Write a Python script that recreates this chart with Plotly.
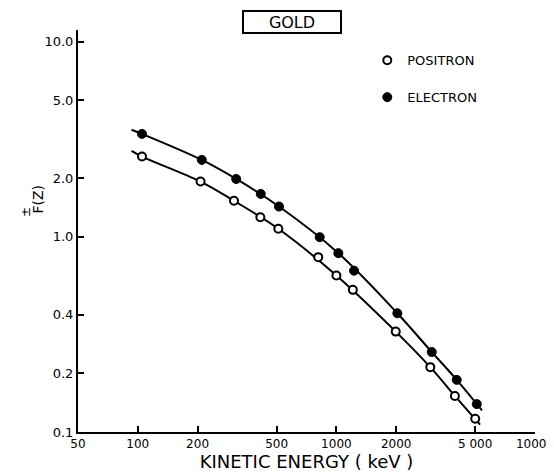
import plotly.graph_objects as go

# ---- data ----
energy_positron = [105, 207, 305, 414, 510, 810, 1000, 1210, 1990, 2970, 3950, 5000]
f_positron = [2.58, 1.92, 1.53, 1.26, 1.10, 0.787, 0.634, 0.535, 0.327, 0.215, 0.153, 0.117]

energy_electron = [105, 210, 313, 416, 514, 824, 1023, 1227, 2027, 3020, 4035, 5090]
f_electron = [3.37, 2.48, 1.98, 1.66, 1.43, 0.996, 0.825, 0.671, 0.406, 0.257, 0.185, 0.139]

# smooth fitted curves (path)
curve_positron_e = [93, 105, 207, 305, 510, 1000, 1990, 2970, 3950, 5290]
curve_positron_f = [2.76, 2.58, 1.92, 1.53, 1.10, 0.634, 0.327, 0.215, 0.153, 0.109]
curve_electron_e = [93, 105, 210, 313, 514, 1023, 2027, 3020, 4035, 5410]
curve_electron_f = [3.54, 3.37, 2.48, 1.98, 1.43, 0.825, 0.406, 0.257, 0.185, 0.129]

x_tickvals = [50, 100, 200, 500, 1000, 2000, 5000, 10000]
x_ticktext = ["50", "100", "200", "500", "1000", "2000", "5 000", "10000"]
y_tickvals = [0.1, 0.2, 0.4, 1, 2, 5, 10]
y_ticktext = ["0.1", "0.2", "0.4", "1.0", "2.0", "5.0", "10.0"]

FONT = "DejaVu Sans"

fig = go.Figure()
fig.add_trace(go.Scatter(x=curve_positron_e, y=curve_positron_f, mode="lines",
                         line=dict(color="black", width=2, shape="spline", smoothing=1.0),
                         showlegend=False, hoverinfo="skip"))
fig.add_trace(go.Scatter(x=curve_electron_e, y=curve_electron_f, mode="lines",
                         line=dict(color="black", width=2, shape="spline", smoothing=1.0),
                         showlegend=False, hoverinfo="skip"))
fig.add_trace(go.Scatter(x=energy_positron, y=f_positron, mode="markers", name="POSITRON",
                         legendgroup="p",
                         marker=dict(symbol="circle", size=8, color="white",
                                     line=dict(color="black", width=2))))
fig.add_trace(go.Scatter(x=energy_electron, y=f_electron, mode="markers", name="ELECTRON",
                         legendgroup="e",
                         marker=dict(symbol="circle", size=9, color="black",
                                     line=dict(color="black", width=1))))

axis_common = dict(type="log", showgrid=False, zeroline=False, showline=True,
                   linecolor="black", linewidth=2, ticks="inside", ticklen=6,
                   tickwidth=2, tickcolor="black", automargin=False)

fig.update_layout(
    width=546, height=464, autosize=False,
    margin=dict(l=70, r=19, t=22, b=40),
    paper_bgcolor="white", plot_bgcolor="white",
    font=dict(family=FONT, color="black"),
    xaxis=dict(range=[1.69897, 4], tickvals=x_tickvals, ticktext=x_ticktext,
               ticklabeloverflow="allow",
               tickfont=dict(family=FONT, size=12, color="black"),
               title=dict(text="KINETIC ENERGY ( keV )", standoff=6,
                          font=dict(family=FONT, size=18, color="black")),
               **axis_common),
    yaxis=dict(range=[-1, 1.06], tickvals=y_tickvals, ticktext=y_ticktext,
               tickfont=dict(family=FONT, size=13, color="black"),
               **axis_common),
    legend=dict(x=0.633, y=0.962, xanchor="left", yanchor="top",
                font=dict(family=FONT, size=13, color="black"),
                bgcolor="rgba(0,0,0,0)", tracegroupgap=17, itemwidth=30),
    annotations=[
        dict(text="GOLD", x=0.468, y=1.021, xref="paper", yref="paper",
             showarrow=False, font=dict(family=FONT, size=16, color="black"),
             bordercolor="black", borderwidth=2, borderpad=1, width=94, height=18,
             xanchor="center", yanchor="middle"),
        dict(text="F(Z)", x=-0.088, y=0.58, xref="paper", yref="paper",
             showarrow=False, textangle=-90,
             font=dict(family=FONT, size=14, color="black"),
             xanchor="center", yanchor="middle"),
        dict(text="±", x=-0.114, y=0.547, xref="paper", yref="paper",
             showarrow=False, textangle=-90,
             font=dict(family=FONT, size=12, color="black"),
             xanchor="center", yanchor="middle"),
    ],
)

fig.write_html("out.html")
